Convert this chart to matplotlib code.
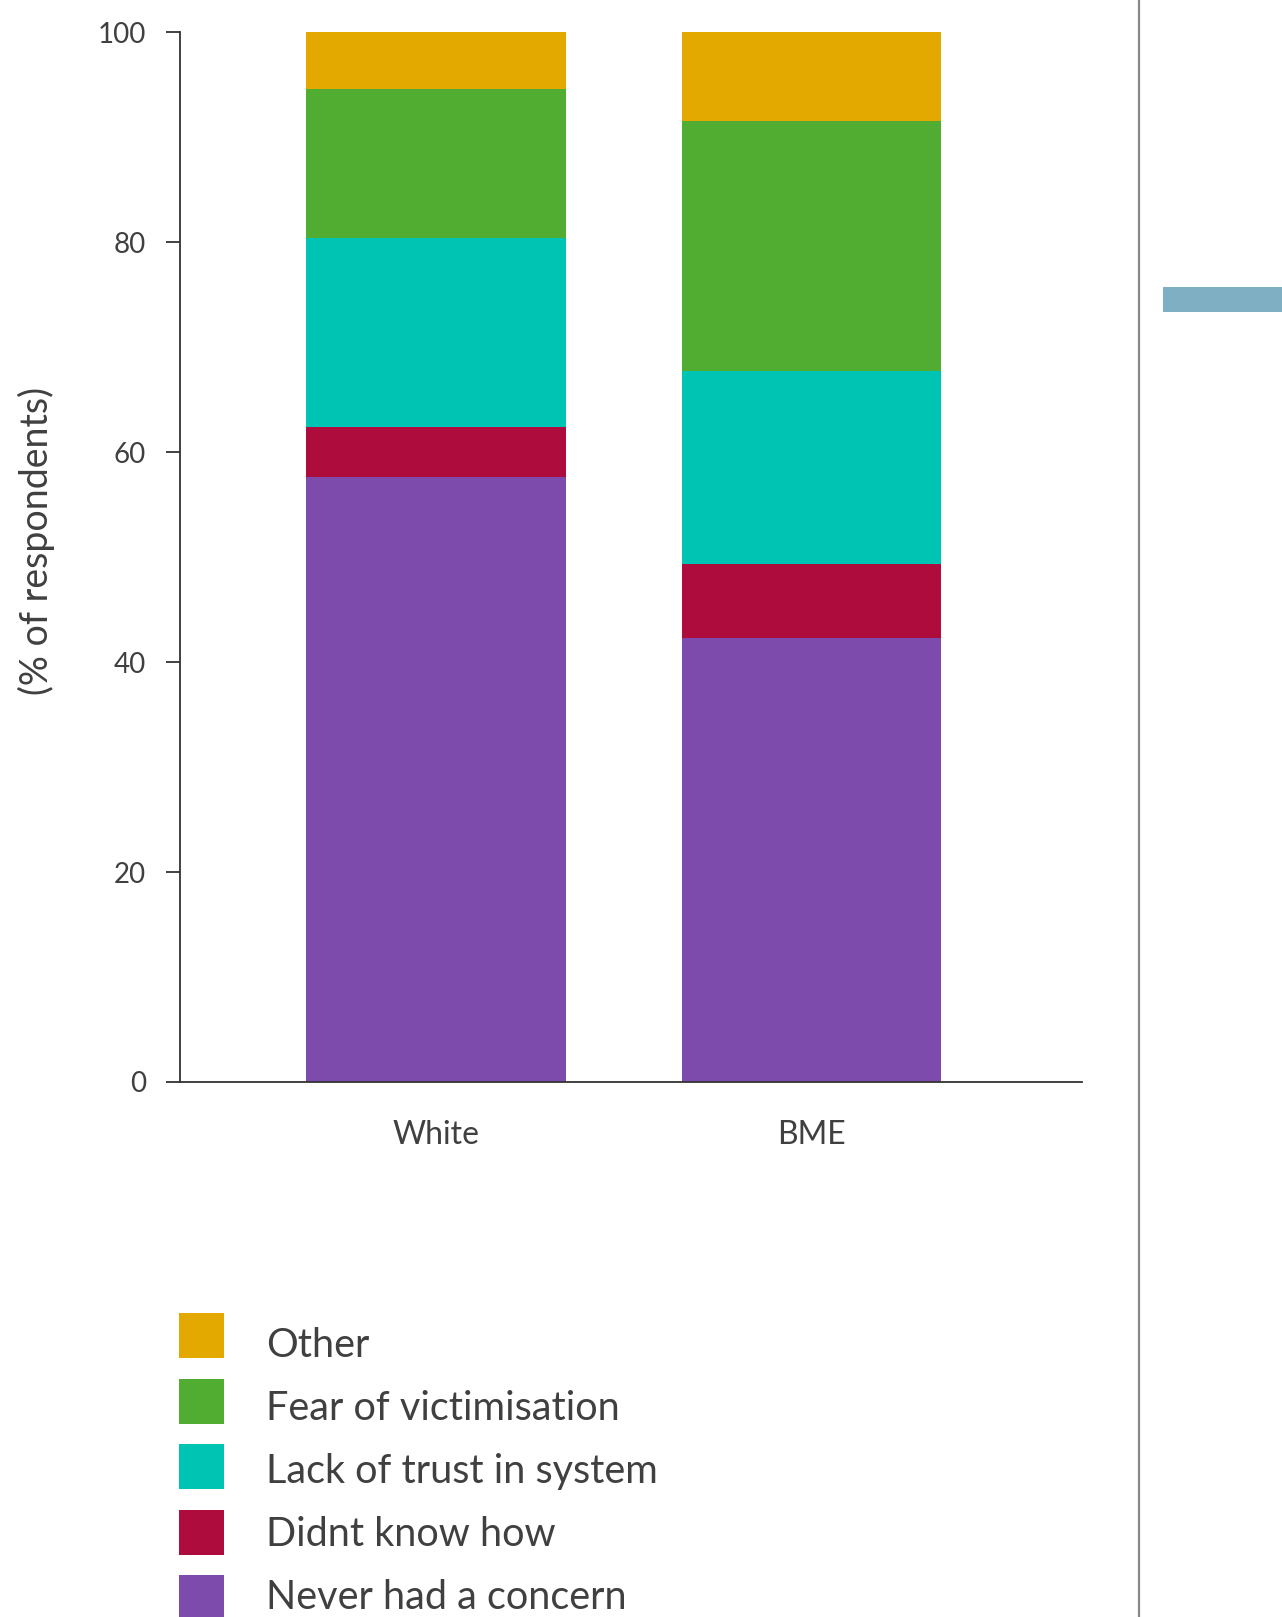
import matplotlib
matplotlib.use("Agg")
import matplotlib.pyplot as plt
from matplotlib.lines import Line2D
from matplotlib.patches import Rectangle

plt.rcParams['font.family'] = ['Lato', 'DejaVu Sans']

groups = ["White", "BME"]
series = ["Never had a concern", "Didnt know how", "Lack of trust in system",
          "Fear of victimisation", "Other"]
never = [57.6, 42.3]
didnt = [4.8, 7.0]
lack = [18.0, 18.4]
fear = [14.2, 23.8]
other = [5.4, 8.5]
colors = ["#7D4BAC", "#AD0C3D", "#00C4B3", "#50AD32", "#E4A900"]
yticks = [0, 20, 40, 60, 80, 100]

text_col = "#404040"
W, H = 1282, 1617

fig = plt.figure(figsize=(W / 100, H / 100), dpi=100)
ax = fig.add_axes([179.5 / W, 535 / H, 902 / W, 1050 / H])

x = [0, 1]
bottom = [0, 0]
for name, vals, c in zip(series, [never, didnt, lack, fear, other], colors):
    ax.bar(x, vals, width=0.693, bottom=bottom, color=c, linewidth=0, label=name)
    bottom = [b + v for b, v in zip(bottom, vals)]

ax.set_xlim(-0.685, 1.72)
ax.set_ylim(0, 100)
ax.set_yticks(yticks)
ax.set_xticks(x)
ax.set_xticklabels(groups, fontsize=23, color=text_col)
ax.tick_params(axis='y', labelsize=20, labelcolor=text_col, length=10, width=1.3,
               color="#333333", pad=14)
ax.tick_params(axis='x', length=0, pad=27)
for s in ["top", "right"]:
    ax.spines[s].set_visible(False)
for s in ["left", "bottom"]:
    ax.spines[s].set_color("#333333")
    ax.spines[s].set_linewidth(1.3)

ax.set_ylabel("(% of respondents)", fontsize=27, color=text_col, labelpad=31)
ax.yaxis.label.set_y(0.515)

# right-hand divider and side marker
fig.add_artist(Line2D([1139 / W, 1139 / W], [0, 1], transform=fig.transFigure,
                      color="#888888", linewidth=1.6))
fig.add_artist(Rectangle((1163 / W, 1 - 312 / H), 119 / W, 25 / H,
                         transform=fig.transFigure, facecolor="#7FAFC3",
                         edgecolor="none"))

# legend, drawn by hand (top row = top of the stack)
for i, (name, c) in enumerate(zip(series[::-1], colors[::-1])):
    top = 1313 + 65.5 * i
    base = 1357 + 63 * i
    fig.add_artist(Rectangle((179 / W, 1 - (top + 45) / H), 45 / W, 45 / H,
                             transform=fig.transFigure, facecolor=c,
                             edgecolor="none"))
    fig.text(266 / W, 1 - base / H, name, fontsize=28.5, color=text_col,
             ha="left", va="baseline")

fig.savefig("out.png", dpi=100, facecolor="white")
